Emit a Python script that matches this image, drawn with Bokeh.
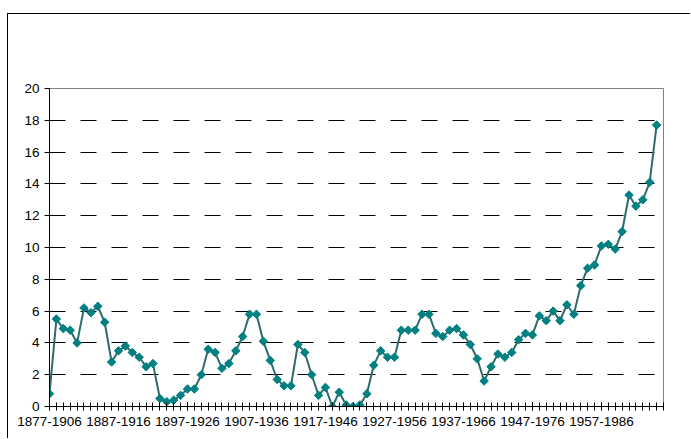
import numpy as np
from bokeh.plotting import figure
from bokeh.models import FixedTicker, Range1d
from bokeh.embed import file_html
from bokeh.resources import INLINE

# 30-year periods, 1877-1906 ... 1965-1994
start_years = list(range(1877, 1966))
periods = [f"{y}-{y + 29}" for y in start_years]

values = [0.8, 5.5, 4.9, 4.8, 4.0, 6.2, 5.9, 6.3, 5.3, 2.8,
          3.5, 3.8, 3.4, 3.1, 2.5, 2.7, 0.5, 0.3, 0.4, 0.7,
          1.1, 1.1, 2.0, 3.6, 3.4, 2.4, 2.7, 3.5, 4.4, 5.8,
          5.8, 4.1, 2.9, 1.7, 1.3, 1.3, 3.9, 3.4, 2.0, 0.7,
          1.2, 0.0, 0.9, 0.1, 0.0, 0.1, 0.8, 2.6, 3.5, 3.1,
          3.1, 4.8, 4.8, 4.8, 5.8, 5.8, 4.6, 4.4, 4.8, 4.9,
          4.5, 3.9, 3.0, 1.6, 2.5, 3.3, 3.1, 3.4, 4.2, 4.6,
          4.5, 5.7, 5.4, 6.0, 5.4, 6.4, 5.8, 7.6, 8.7, 8.9,
          10.1, 10.2, 9.9, 11.0, 13.3, 12.6, 13.0, 14.1, 17.7]

tick_labels = ["1877-1906", "1887-1916", "1897-1926", "1907-1936", "1917-1946",
               "1927-1956", "1937-1966", "1947-1976", "1957-1986"]
y_ticks = [0, 2, 4, 6, 8, 10, 12, 14, 16, 18, 20]

x = list(range(len(values)))
label_pos = [periods.index(t) for t in tick_labels]

# figure sits at (7, 13) in the page, with a 1px black border on top and left
p = figure(width=683, height=425, output_backend="svg", toolbar_location=None,
           x_range=Range1d(0, len(values)), y_range=Range1d(0, 20),
           min_border_left=41, min_border_top=74, min_border_right=28, min_border_bottom=33,
           margin=(13, 0, 0, 7),
           styles={"border-top": "1px solid black", "border-left": "1px solid black"})

p.background_fill_color = "white"
p.border_fill_color = "white"
p.outline_line_color = "#808080"
p.outline_line_width = 1

FONT = "Liberation Sans"

# x axis
p.xaxis.ticker = FixedTicker(ticks=label_pos, minor_ticks=list(range(len(values) + 1)))
p.xaxis.major_label_overrides = {i: periods[i] for i in label_pos}
p.xaxis.major_tick_in = 4
p.xaxis.major_tick_out = 4
p.xaxis.minor_tick_in = 4
p.xaxis.minor_tick_out = 4
p.xaxis.major_label_standoff = 6
p.xaxis.axis_line_color = "black"
p.xaxis.major_tick_line_color = "black"
p.xaxis.minor_tick_line_color = "black"
p.xaxis.major_label_text_font = FONT
p.xaxis.major_label_text_font_size = "13.5px"
p.xaxis.major_label_text_color = "black"

# y axis
p.yaxis.ticker = FixedTicker(ticks=y_ticks)
p.yaxis.major_tick_in = 0
p.yaxis.major_tick_out = 5
p.yaxis.minor_tick_line_color = None
p.yaxis.major_label_standoff = 5
p.yaxis.axis_line_color = "black"
p.yaxis.major_tick_line_color = "black"
p.yaxis.major_label_text_font = FONT
p.yaxis.major_label_text_font_size = "13.5px"
p.yaxis.major_label_text_color = "black"

p.xgrid.grid_line_color = None
p.ygrid.grid_line_color = "black"
p.ygrid.grid_line_width = 1
p.ygrid.grid_line_dash = "16 15"

p.line(x, values, line_color="#2E6B6B", line_width=2)
p.scatter(x, values, marker="square", angle=np.pi / 4, size=6,
          fill_color="#008080", line_color="#008080", line_width=1)

open("out.html", "w").write(file_html(p, INLINE))
